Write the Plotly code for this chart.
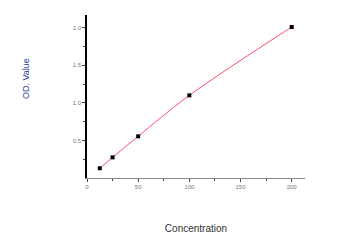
import plotly.graph_objects as go

conc = [12.5, 25, 50, 100, 200]
od = [0.13, 0.275, 0.555, 1.10, 2.01]

fig = go.Figure()
fig.add_trace(go.Scatter(x=conc, y=od, mode="lines", line=dict(color="#ff4d6d", width=1, shape="spline"), hoverinfo="skip"))
fig.add_trace(go.Scatter(x=conc, y=od, mode="markers", marker=dict(symbol="square", size=4, color="#000000")))

fig.update_layout(
    width=348, height=243, showlegend=False,
    margin=dict(l=87, r=43, t=15, b=65),
    paper_bgcolor="white", plot_bgcolor="white",
    font=dict(family="Arial, Liberation Sans, sans-serif"),
)
fig.add_annotation(text="OD. Value", xref="paper", yref="paper", x=-0.282, y=0.61,
                   textangle=-90, showarrow=False, xanchor="center", yanchor="middle",
                   font=dict(size=9, color="#1f3f99"))
fig.update_xaxes(
    range=[0, 213], tickvals=[0, 50, 100, 150, 200], ticktext=["0", "50", "100", "150", "200"],
    showgrid=False, zeroline=False, showline=True, linecolor="#888888", linewidth=1,
    ticks="outside", ticklen=3, tickcolor="#444444", tickfont=dict(size=6, color="#777777"),
    minor=dict(tickvals=[25, 75, 125, 175], ticks="outside", ticklen=2, tickcolor="#444444"),
    title=dict(text="Concentration", font=dict(size=10, color="#333333"), standoff=35),
)
fig.update_yaxes(
    range=[0, 2.17], tickvals=[0.5, 1.0, 1.5, 2.0], ticktext=["0.5", "1.0", "1.5", "2.0"],
    showgrid=False, zeroline=False, showline=True, linecolor="#000000", linewidth=1.5,
    ticks="outside", ticklen=3, tickcolor="#444444", tickfont=dict(size=6, color="#777777"),
    minor=dict(tickvals=[0.25, 0.75, 1.25, 1.75], ticks="outside", ticklen=2, tickcolor="#444444"),
)
fig.write_html("out.html")
